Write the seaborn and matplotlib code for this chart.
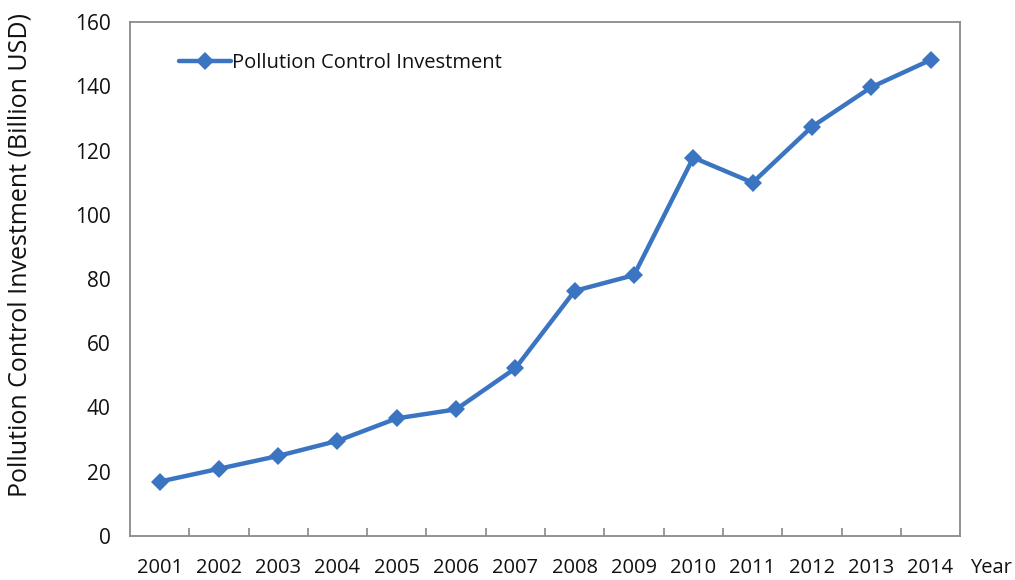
import numpy as np
import pandas as pd
import matplotlib
matplotlib.use("Agg")
import matplotlib.pyplot as plt
from matplotlib.ticker import FixedLocator
import seaborn as sns

years = [2001, 2002, 2003, 2004, 2005, 2006, 2007,
         2008, 2009, 2010, 2011, 2012, 2013, 2014]
investment = [16.9, 20.9, 24.9, 29.6, 36.6, 39.4, 52.2,
              76.3, 81.2, 117.8, 110.0, 127.4, 139.7, 148.2]
series_name = "Pollution Control Investment"
y_label = "Pollution Control Investment (Billion USD)"
x_label = "Year"

df = pd.DataFrame({"Year": years, "Investment": investment})

sns.set_theme(style="white")
plt.rcParams["font.family"] = ["Open Sans", "DejaVu Sans"]

fig = plt.figure(figsize=(10.15, 5.8), dpi=100)
ax = fig.add_axes([0.128, 0.076, 0.818, 0.886])

line_color = "#3b75c2"
sns.lineplot(data=df, x="Year", y="Investment", ax=ax, color=line_color,
             linewidth=3.2, marker="D", markersize=9, markeredgewidth=0,
             label=series_name)

ax.set_xlim(years[0] - 0.5, years[-1] + 0.5)
ax.set_ylim(0, 160)
ax.set_yticks(np.arange(0, 161, 20))
ax.set_xticks(years)
ax.set_xticklabels([str(y) for y in years])
ax.xaxis.set_minor_locator(FixedLocator([y + 0.5 for y in years[:-1]]))

ax.tick_params(axis="x", which="major", length=0, pad=16, labelsize=14.5,
               colors="#111111")
ax.tick_params(axis="x", which="minor", length=6, direction="in",
               color="#888888", width=1.2, bottom=True)
ax.tick_params(axis="y", which="major", length=5, direction="in",
               width=1.2, pad=14, labelsize=15, labelcolor="#111111",
               color="#888888")

for sp in ax.spines.values():
    sp.set_visible(True)
    sp.set_color("#8a8a8a")
    sp.set_linewidth(1.3)

ax.set_xlabel("")
ax.set_ylabel(y_label, fontsize=18, color="#111111")
ax.yaxis.set_label_coords(-0.117, 0.547)
ax.text((970 - 130) / 830, -32 / 514, x_label, transform=ax.transAxes,
        fontsize=14.5, color="#111111", ha="left", va="center")

leg = ax.legend(loc="upper left", bbox_to_anchor=(0.049, 0.955), frameon=False,
                fontsize=14.5, handlelength=2.6, handletextpad=0.05,
                borderaxespad=0)
for t in leg.get_texts():
    t.set_color("#111111")

fig.savefig("out.png", dpi=100, facecolor="white")
